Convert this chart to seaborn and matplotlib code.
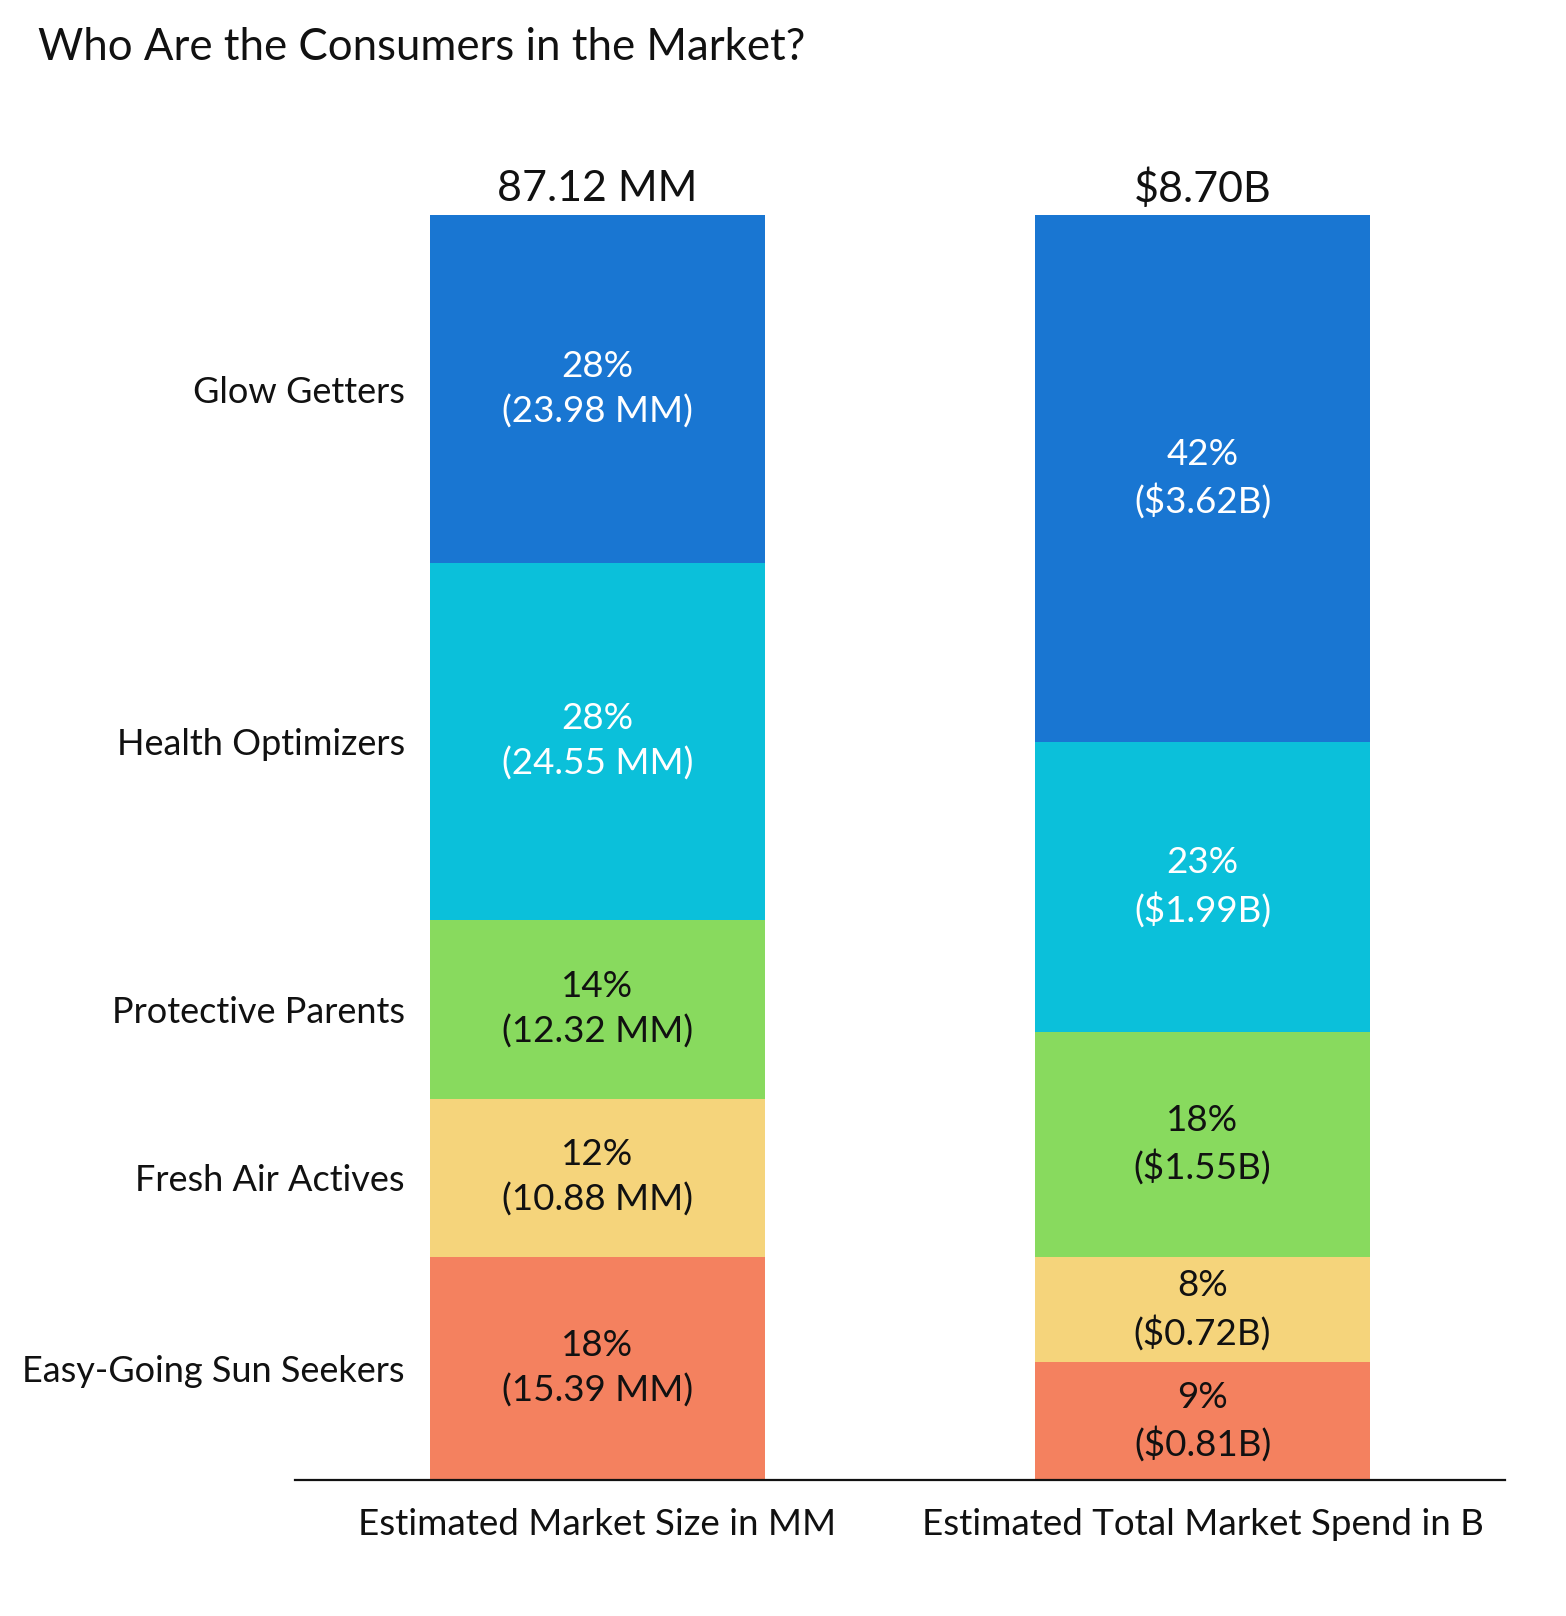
import matplotlib
matplotlib.use("Agg")
import matplotlib.pyplot as plt
import seaborn as sns
import numpy as np

# data (bottom -> top)
segments = ["Easy-Going Sun Seekers", "Fresh Air Actives", "Protective Parents",
            "Health Optimizers", "Glow Getters"]
size_mm = [15.39, 10.88, 12.32, 24.55, 23.98]
spend_b = [0.81, 0.72, 1.55, 1.99, 3.62]
size_pct = ["18%", "12%", "14%", "28%", "28%"]
spend_pct = ["9%", "8%", "18%", "23%", "42%"]
columns = ["Estimated Market Size in MM", "Estimated Total Market Spend in B"]
totals = ["87.12 MM", "$8.70B"]
colors = ["#F4815F", "#F5D47B", "#88DA5E", "#0BC0DA", "#1976D2"]
text_colors = ["#111111", "#111111", "#111111", "white", "white"]

sns.set_theme(style="white")
plt.rcParams["font.family"] = ["Lato", "DejaVu Sans"]

size_share = np.array(size_mm) / sum(size_mm) * 100
spend_share = np.array(spend_b) / sum(spend_b) * 100
size_cum = np.cumsum(size_share)
spend_cum = np.cumsum(spend_share)

fig = plt.figure(figsize=(15.66, 16.16), dpi=100)
ax = fig.add_axes([295 / 1566, 1 - 1480 / 1616, 1210 / 1566, 1265 / 1616])

# stacked bars: draw cumulative totals from top segment down
for i in reversed(range(len(segments))):
    sns.barplot(x=columns, y=[size_cum[i], spend_cum[i]], color=colors[i],
                width=0.555, saturation=1, ax=ax, linewidth=0)

# segment labels
for i in range(len(segments)):
    lo = size_cum[i] - size_share[i]
    ax.text(0, lo + size_share[i] / 2, f"{size_pct[i]}\n({size_mm[i]:.2f} MM)",
            ha="center", va="center", fontsize=26.5,
            color=text_colors[i], linespacing=1.4)
    lo = spend_cum[i] - spend_share[i]
    ax.text(1, lo + spend_share[i] / 2, f"{spend_pct[i]}\n(${spend_b[i]:.2f}B)",
            ha="center", va="center", fontsize=26.5,
            color=text_colors[i], linespacing=1.4)

# totals above bars
for j, t in enumerate(totals):
    ax.annotate(t, (j, 100), xytext=(0, 19), textcoords="offset points",
                ha="center", va="center", fontsize=31,
                color="#111111", annotation_clip=False)

ax.set_ylim(0, 100)
ax.set_xlim(-0.5, 1.5)
ax.set_yticks(size_cum - size_share / 2)
ax.set_yticklabels(segments, fontsize=26, color="#111111")
ax.tick_params(axis="y", length=0, pad=-79)
ax.tick_params(axis="x", length=0, pad=20, labelsize=26.5, labelcolor="#111111")
ax.set_xlabel("")
ax.set_ylabel("")
sns.despine(ax=ax, left=True)
ax.spines["bottom"].set_color("#111111")
ax.spines["bottom"].set_linewidth(1.6)

fig.text(38 / 1566, 1 - 47 / 1616, "Who Are the Consumers in the Market?",
         ha="left", va="center", fontsize=31.5, color="#111111")

fig.savefig("out.png", dpi=100)
